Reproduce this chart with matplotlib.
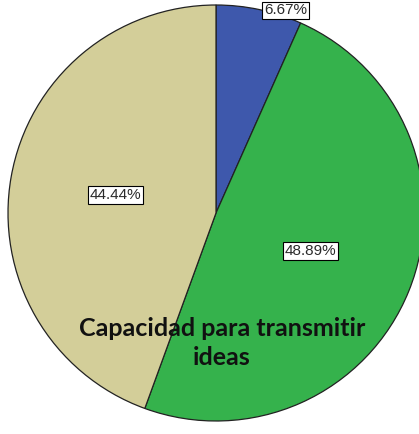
import matplotlib.pyplot as plt
import numpy as np

# datos del grafico
categorias = ['A', 'B', 'C']
porcentajes = [6.67, 48.89, 44.44]
colores = ['#3e58ac', '#35b24c', '#d3ce99']
titulo = 'Capacidad para transmitir\nideas'

fig = plt.figure(figsize=(4.19, 4.34), dpi=100)
ax = fig.add_axes([0, 0, 1, 1])
ax.set_xlim(0, 419)
ax.set_ylim(0, 434)
ax.axis('off')

centro = (216, 221)
radio = 208

wedges, texts, autotexts = ax.pie(
    porcentajes, colors=colores, startangle=90, counterclock=False,
    center=centro, radius=radio, autopct='%.2f%%', pctdistance=0.49,
    wedgeprops=dict(edgecolor='#222222', linewidth=0.9),
    textprops=dict(fontsize=11, family='Liberation Sans', color='#2a2a2a'))
ax.set_xlim(0, 419)
ax.set_ylim(0, 434)
ax.set_aspect('equal')

for t in autotexts:
    t.set_bbox(dict(boxstyle='square,pad=0.12', facecolor='white',
                    edgecolor='black', linewidth=0.8))

# la etiqueta del sector pequeno va fuera del borde
ang = np.deg2rad(71)
autotexts[0].set_position((centro[0] + 1.03 * radio * np.cos(ang),
                           centro[1] + 1.03 * radio * np.sin(ang)))

ax.text(222, 91, titulo, ha='center', va='center', fontsize=18,
        fontweight='bold', family='Lato', linespacing=1.35, color='#111111')

fig.savefig('out.png', dpi=100)
